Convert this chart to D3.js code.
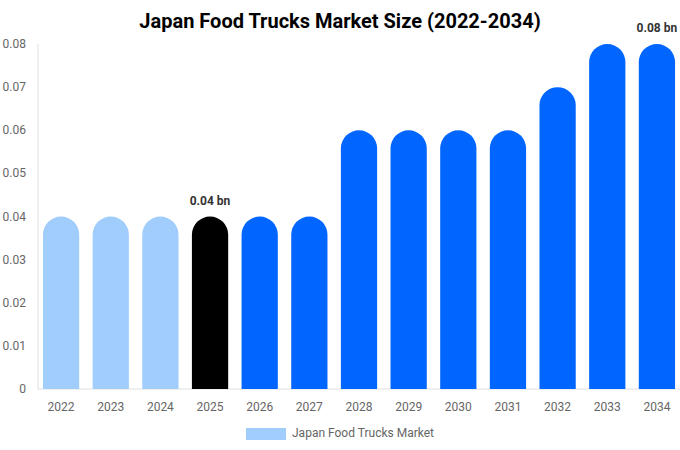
<!DOCTYPE html>
<html><head><meta charset="utf-8">
<script src="https://cdn.jsdelivr.net/npm/d3@7"></script>
<style>body{margin:0;background:#fff;font-family:Roboto,Arial,sans-serif}</style>
</head><body><svg id="c" width="680" height="450"></svg>
<script>
var years = ['2022','2023','2024','2025','2026','2027','2028','2029','2030','2031','2032','2033','2034'];
var values = [0.04,0.04,0.04,0.04,0.04,0.04,0.06,0.06,0.06,0.06,0.07,0.08,0.08];
var yTicks = [0,0.01,0.02,0.03,0.04,0.05,0.06,0.07,0.08];
var labelled = {'2025':'0.04 bn','2034':'0.08 bn'};

var svg = d3.select('#c');
var m = {l:38, r:680, t:44, b:389};

var x = d3.scaleBand().domain(years).range([m.l, m.r]).paddingInner(0.27).paddingOuter(0.1);
var y = d3.scaleLinear().domain([0,0.08]).range([m.b, m.t]);

svg.append('text').attr('x',340).attr('y',28).attr('text-anchor','middle')
  .style('font-size','20px').style('font-weight','bold').text('Japan Food Trucks Market Size (2022-2034)');

// axes lines
svg.append('line').attr('x1',m.l).attr('x2',m.l).attr('y1',m.t).attr('y2',m.b).attr('stroke','#e0e0e0');
svg.append('line').attr('x1',m.l).attr('x2',m.r).attr('y1',m.b).attr('y2',m.b).attr('stroke','#e0e0e0');

svg.selectAll('.yt').data(yTicks).enter().append('text')
  .attr('x',26).attr('y',function(d){return y(d)+4;}).attr('text-anchor','end')
  .style('font-size','12px').attr('fill','#666').text(function(d){return d===0?'0':d3.format('.2f')(d);});

svg.selectAll('.xt').data(years).enter().append('text')
  .attr('x',function(d){return x(d)+x.bandwidth()/2;}).attr('y',411).attr('text-anchor','middle')
  .style('font-size','12px').attr('fill','#666').text(function(d){return d;});

function color(d,i){ if(d==='2025') return '#000'; return i<3 ? '#a0cdfc' : '#0066ff'; }

var w = x.bandwidth(), r = w/2;
svg.selectAll('.bar').data(years).enter().append('path')
  .attr('fill', color)
  .attr('d', function(d,i){
    var x0 = x(d), yt = y(values[i]), yb = y(0);
    return 'M'+x0+','+yb+'V'+(yt+r)+'A'+r+','+r+' 0 0 1 '+(x0+w)+','+(yt+r)+'V'+yb+'Z';
  });

svg.selectAll('.lbl').data(years.filter(function(d){return labelled[d];})).enter().append('text')
  .attr('x',function(d){return x(d)+w/2;})
  .attr('y',function(d){return y(values[years.indexOf(d)])-12;})
  .attr('text-anchor','middle').style('font-size','12px').style('font-weight','bold').attr('fill','#333')
  .text(function(d){return labelled[d];});

svg.append('rect').attr('x',246).attr('y',428).attr('width',40).attr('height',12).attr('fill','#a0cdfc');
svg.append('text').attr('x',292).attr('y',437).style('font-size','12px').attr('fill','#666').text('Japan Food Trucks Market');
</script></body></html>
